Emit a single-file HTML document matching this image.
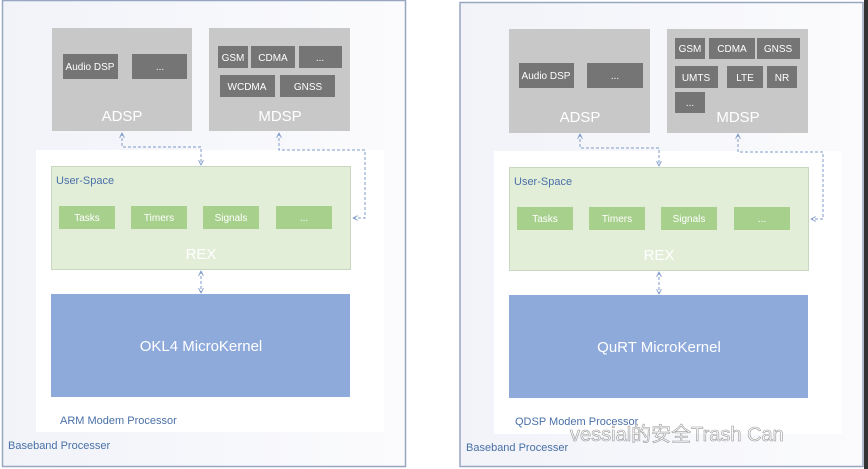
<!DOCTYPE html>
<html><head><meta charset="utf-8"><style>
html,body{margin:0;padding:0;background:#fff;}
svg{display:block;font-family:"Liberation Sans",sans-serif;}
</style></head><body>
<svg width="868" height="469" viewBox="0 0 868 469" xmlns="http://www.w3.org/2000/svg">
<defs>
<linearGradient id="bg" x1="0" y1="0" x2="1" y2="0">
<stop offset="0" stop-color="#f1f3f9"/><stop offset="1" stop-color="#fbfbfd"/>
</linearGradient>
<marker id="ar" viewBox="0 0 10 10" refX="9" refY="5" markerWidth="6" markerHeight="6" orient="auto-start-reverse">
<path d="M1,1 L9,5 L1,9" fill="none" stroke="#7f9bc8" stroke-width="1.5"/></marker>
</defs>
<rect x="0" y="0" width="868" height="469" fill="#fff"/>
<rect x="864" y="0" width="4" height="469" fill="#333"/>

<!-- LEFT -->
<rect x="2.5" y="0.5" width="403" height="466" fill="url(#bg)" stroke="#98a6bf" stroke-width="1.5"/>
<rect x="36" y="150" width="348" height="282" fill="#fff"/>
<rect x="52" y="28" width="140" height="103" fill="#c8c8c8"/>
<rect x="209" y="28" width="141" height="103" fill="#c8c8c8"/>
<g fill="#757575">
<rect x="63" y="54" width="55" height="25"/><rect x="132" y="54" width="55" height="25"/>
<rect x="218" y="46" width="30" height="22"/><rect x="251" y="46" width="44" height="22"/><rect x="299" y="46" width="43" height="22"/>
<rect x="220" y="75" width="55" height="22"/><rect x="280" y="75" width="55" height="22"/>
</g>
<g fill="#fff" font-size="10" text-anchor="middle">
<text x="90" y="70">Audio DSP</text><text x="160" y="70">...</text>
<text x="233" y="61">GSM</text><text x="273" y="61">CDMA</text><text x="320" y="61">...</text>
<text x="247" y="90">WCDMA</text><text x="308" y="90">GNSS</text>
</g>
<g fill="#fff" font-size="15" text-anchor="middle">
<text x="122" y="121">ADSP</text><text x="280" y="121">MDSP</text>
</g>
<rect x="51.5" y="166.5" width="299" height="103" fill="#e3eed9" stroke="#c9d6c0"/>
<text x="56" y="184" font-size="11" fill="#4a70a8">User-Space</text>
<g fill="#a8d08d"><rect x="59" y="206" width="56" height="23"/><rect x="131" y="206" width="56" height="23"/><rect x="203" y="206" width="56" height="23"/><rect x="276" y="206" width="56" height="23"/></g>
<g fill="#fff" font-size="10" text-anchor="middle">
<text x="87" y="221">Tasks</text><text x="159" y="221">Timers</text><text x="231" y="221">Signals</text><text x="304" y="221">...</text>
</g>
<text x="201" y="259" font-size="15" fill="#fff" text-anchor="middle">REX</text>
<rect x="51" y="294" width="299" height="103" fill="#8eaadb"/>
<text x="201" y="351" font-size="15" fill="#fff" text-anchor="middle">OKL4 MicroKernel</text>
<text x="60" y="424" font-size="11" fill="#4a70a8">ARM Modem Processor</text>
<text x="8" y="449" font-size="11" fill="#4a70a8">Baseband Processer</text>
<g fill="none" stroke="#7f9bc8" stroke-width="1" stroke-dasharray="3,2">
<path d="M122,133 V147 H201 V165" marker-start="url(#ar)" marker-end="url(#ar)"/>
<path d="M279,133 V150 H365 V218 H353" marker-start="url(#ar)" marker-end="url(#ar)"/>
<path d="M201,271 V293" marker-start="url(#ar)" marker-end="url(#ar)"/>
</g>

<!-- RIGHT -->
<rect x="460" y="2.5" width="403" height="464" fill="url(#bg)" stroke="#98a6bf" stroke-width="1.5"/>
<rect x="494" y="151" width="348" height="283" fill="#fff"/>
<rect x="509" y="29" width="141" height="104" fill="#c8c8c8"/>
<rect x="667" y="29" width="141" height="104" fill="#c8c8c8"/>
<g fill="#757575">
<rect x="519" y="63" width="55" height="25"/><rect x="587" y="63" width="56" height="25"/>
<rect x="675" y="38" width="30" height="21"/><rect x="709" y="38" width="46" height="21"/><rect x="757" y="38" width="43" height="21"/>
<rect x="675" y="66" width="43" height="22"/><rect x="727" y="66" width="36" height="22"/><rect x="767" y="66" width="30" height="22"/>
<rect x="675" y="92" width="30" height="21"/>
</g>
<g fill="#fff" font-size="10" text-anchor="middle">
<text x="546" y="79">Audio DSP</text><text x="615" y="79">...</text>
<text x="690" y="52">GSM</text><text x="732" y="52">CDMA</text><text x="778" y="52">GNSS</text>
<text x="696" y="81">UMTS</text><text x="745" y="81">LTE</text><text x="782" y="81">NR</text>
<text x="690" y="106">...</text>
</g>
<g fill="#fff" font-size="15" text-anchor="middle">
<text x="580" y="122">ADSP</text><text x="738" y="122">MDSP</text>
</g>
<rect x="509.5" y="167.5" width="299" height="103" fill="#e3eed9" stroke="#c9d6c0"/>
<text x="514" y="185" font-size="11" fill="#4a70a8">User-Space</text>
<g fill="#a8d08d"><rect x="517" y="207" width="56" height="23"/><rect x="589" y="207" width="56" height="23"/><rect x="661" y="207" width="56" height="23"/><rect x="734" y="207" width="56" height="23"/></g>
<g fill="#fff" font-size="10" text-anchor="middle">
<text x="545" y="222">Tasks</text><text x="617" y="222">Timers</text><text x="689" y="222">Signals</text><text x="762" y="222">...</text>
</g>
<text x="659" y="260" font-size="15" fill="#fff" text-anchor="middle">REX</text>
<rect x="509" y="295" width="299" height="103" fill="#8eaadb"/>
<text x="659" y="352" font-size="15" fill="#fff" text-anchor="middle">QuRT MicroKernel</text>
<text x="515" y="425" font-size="11" fill="#4a70a8">QDSP Modem Processor</text>
<text x="466" y="451" font-size="11" fill="#4a70a8">Baseband Processer</text>
<text x="570" y="441" font-size="20" fill="none" stroke="#999" stroke-width="0.6">vessial的安全Trash Can</text>
<g fill="none" stroke="#7f9bc8" stroke-width="1" stroke-dasharray="3,2">
<path d="M580,134 V148 H659 V166" marker-start="url(#ar)" marker-end="url(#ar)"/>
<path d="M738,134 V152 H823 V219 H811" marker-start="url(#ar)" marker-end="url(#ar)"/>
<path d="M659,272 V294" marker-start="url(#ar)" marker-end="url(#ar)"/>
</g>
</svg>
</body></html>
